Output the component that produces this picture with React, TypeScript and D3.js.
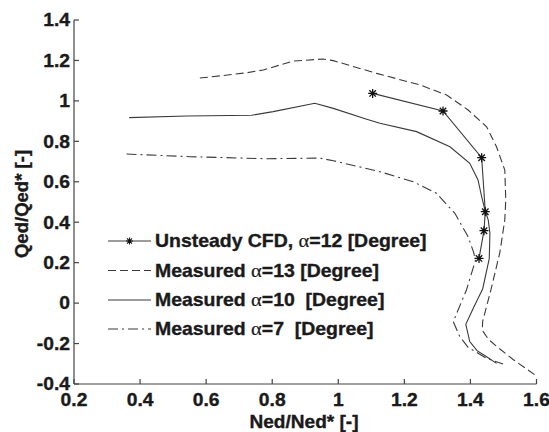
import React from "react";
import * as d3 from "d3";

const xTicks = [0.2, 0.4, 0.6, 0.8, 1, 1.2, 1.4, 1.6];
const yTicks = [-0.4, -0.2, 0, 0.2, 0.4, 0.6, 0.8, 1, 1.2, 1.4];

const cfdX = [1.104, 1.317, 1.434, 1.445, 1.441, 1.426];
const cfdY = [1.037, 0.95, 0.719, 0.452, 0.358, 0.221];

const m13X = [0.581, 0.65, 0.722, 0.773, 0.864, 0.954, 0.985, 1.116, 1.247, 1.328, 1.393, 1.449, 1.479, 1.504, 1.507, 1.504, 1.489, 1.462, 1.437, 1.436, 1.455, 1.48, 1.53, 1.6];
const m13Y = [1.113, 1.125, 1.139, 1.153, 1.197, 1.207, 1.199, 1.136, 1.079, 1.029, 0.955, 0.872, 0.773, 0.658, 0.51, 0.411, 0.25, 0.065, -0.09, -0.135, -0.18, -0.215, -0.28, -0.36];

const m10X = [0.367, 0.541, 0.738, 0.803, 0.929, 0.985, 1.086, 1.126, 1.237, 1.338, 1.398, 1.423, 1.434, 1.444, 1.454, 1.459, 1.457, 1.437, 1.41, 1.386, 1.398, 1.42, 1.449, 1.479];
const m10Y = [0.917, 0.925, 0.929, 0.947, 0.988, 0.963, 0.909, 0.889, 0.848, 0.773, 0.691, 0.609, 0.526, 0.46, 0.411, 0.345, 0.22, 0.07, -0.02, -0.105, -0.19, -0.235, -0.265, -0.298];

const m7X = [0.359, 0.551, 0.783, 0.944, 0.985, 1.126, 1.227, 1.297, 1.353, 1.393, 1.41, 1.415, 1.388, 1.348, 1.368, 1.393, 1.449, 1.499];
const m7Y = [0.737, 0.724, 0.714, 0.717, 0.704, 0.65, 0.6, 0.543, 0.444, 0.328, 0.25, 0.21, 0.065, -0.092, -0.166, -0.219, -0.273, -0.301];

const legendLabels = [
  ["Unsteady CFD, ", "=12 [Degree]"],
  ["Measured ", "=13 [Degree]"],
  ["Measured ", "=10  [Degree]"],
  ["Measured ", "=7  [Degree]"],
];

const W = 549, H = 432;
const L = 74, R = 536.5, T = 20, B = 384;
const FONT = "'Liberation Sans', Arial, sans-serif";
const LINE = "#3a3a3a";
const TXT = "#1a1a1a";

function zip(xs: number[], ys: number[]): [number, number][] {
  return xs.map((x, i) => [x, ys[i]]);
}

function starPath(cx: number, cy: number, r: number) {
  const d = r * 0.72;
  return `M${cx - r},${cy}L${cx + r},${cy}M${cx},${cy - r}L${cx},${cy + r}M${cx - d},${cy - d}L${cx + d},${cy + d}M${cx - d},${cy + d}L${cx + d},${cy - d}`;
}

export default function App() {
  const x = d3.scaleLinear().domain([0.2, 1.6]).range([L, R]);
  const y = d3.scaleLinear().domain([-0.4, 1.4]).range([B, T]);
  const line = d3.line<[number, number]>().x((d) => x(d[0])).y((d) => y(d[1]));

  const styles = [
    { dash: undefined, star: true },
    { dash: "8,4", star: false },
    { dash: undefined, star: false },
    { dash: "10,4,2,4", star: false },
  ];
  const legendY = [241, 270.5, 300, 329];
  const txtProps = { fontFamily: FONT, fontWeight: "bold", fontSize: 18, fill: TXT, stroke: TXT, strokeWidth: 0.35 };

  return (
    <svg width={W} height={H} style={{ position: "absolute", left: 0, top: 0, background: "#fff" }}>
      <rect x={0} y={0} width={W} height={H} fill="#fff" />
      <line x1={L} y1={T} x2={L} y2={B} stroke="#444" strokeWidth={1.2} />
      <line x1={L} y1={B} x2={R} y2={B} stroke="#444" strokeWidth={1.2} />
      {xTicks.map((t) => (
        <g key={"xt" + t}>
          <line x1={x(t)} x2={x(t)} y1={B} y2={B - 5} stroke="#444" strokeWidth={1.2} />
          <text transform={`translate(${x(t)},406) scale(1.07,1)`} textAnchor="middle" {...txtProps}>
            {String(t)}
          </text>
        </g>
      ))}
      {yTicks.map((t) => (
        <g key={"yt" + t}>
          <line x1={L} x2={L + 5} y1={y(t)} y2={y(t)} stroke="#444" strokeWidth={1.2} />
          <text transform={`translate(70,${y(t) + 6.3}) scale(1.07,1)`} textAnchor="end" {...txtProps}>
            {String(Math.round(t * 10) / 10)}
          </text>
        </g>
      ))}
      <text transform={`translate(304,428) scale(1.06,1)`} textAnchor="middle" {...txtProps}>
        Ned/Ned* [-]
      </text>
      <text transform={`translate(28,204) rotate(-90) scale(1.03,1)`} textAnchor="middle" {...txtProps}>
        Qed/Qed* [-]
      </text>

      <path d={line(zip(m13X, m13Y)) || ""} fill="none" stroke={LINE} strokeWidth={1.1} strokeDasharray="8,4" />
      <path d={line(zip(m10X, m10Y)) || ""} fill="none" stroke={LINE} strokeWidth={1.1} />
      <path d={line(zip(m7X, m7Y)) || ""} fill="none" stroke={LINE} strokeWidth={1.1} strokeDasharray="10,4,2,4" />
      <path d={line(zip(cfdX, cfdY)) || ""} fill="none" stroke={LINE} strokeWidth={1.1} />
      {cfdX.map((v, i) => (
        <path key={"s" + i} d={starPath(x(v), y(cfdY[i]), 4.5)} stroke="#111" strokeWidth={1.3} fill="none" />
      ))}

      {legendLabels.map((lab, i) => (
        <g key={"lg" + i}>
          <line x1={108} x2={151} y1={legendY[i]} y2={legendY[i]} stroke={LINE} strokeWidth={1.1} strokeDasharray={styles[i].dash} />
          {styles[i].star && <path d={starPath(129.5, legendY[i], 3.5)} stroke="#111" strokeWidth={1.1} fill="none" />}
          <text transform={`translate(155,${legendY[i] + 6.3}) scale(1.08,1)`} {...txtProps} style={{ whiteSpace: "pre" }}>
            {lab[0]}
            <tspan fontFamily="'Liberation Serif', 'DejaVu Serif', serif" fontWeight="normal" strokeWidth={0.2} fontSize={19}>α</tspan>
            {lab[1]}
          </text>
        </g>
      ))}
    </svg>
  );
}
